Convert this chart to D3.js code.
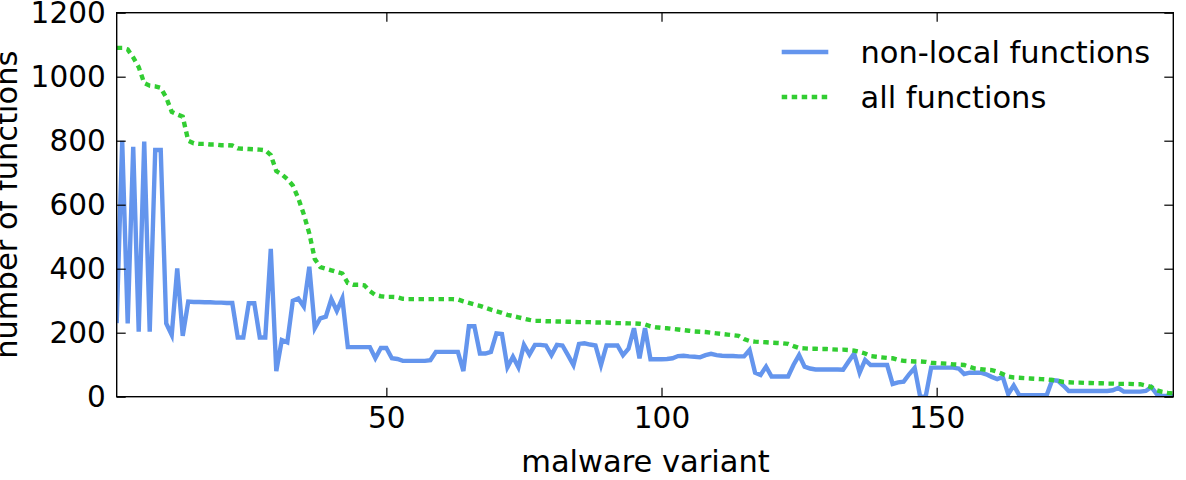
<!DOCTYPE html>
<html>
<head>
<meta charset="utf-8">
<script src="https://cdn.jsdelivr.net/npm/d3@7"></script>
<style>
  body { margin: 0; background: #fff; }
  svg text { font-family: "DejaVu Sans", sans-serif; fill: #000; }
</style>
</head>
<body>
<div id="chart"></div>
<script>
// Data --------------------------------------------------------------------------------------------------------------
const nonLocal = [
  230, 800, 229, 781, 203, 797, 203, 771, 771, 229, 193, 401, 190, 297, 296, 296, 295, 295, 294, 294,
  293, 293, 185, 185, 292, 292, 185, 185, 462, 80, 177, 170, 300, 307, 282, 406, 214, 245, 250, 305,
  268, 307, 155, 155, 155, 155, 155, 120, 152, 152, 120, 118, 112, 112, 112, 112, 112, 114, 140, 140,
  140, 140, 140, 80, 220, 220, 135, 135, 140, 198, 196, 92, 125, 92, 162, 132, 162, 162, 160, 130,
  162, 160, 130, 99, 165, 167, 163, 160, 99, 160, 160, 160, 130, 150, 214, 120, 214, 117, 117, 117,
  118, 120, 127, 128, 126, 125, 123, 130, 134, 130, 128, 127, 127, 126, 126, 146, 75, 68, 94, 63,
  63, 63, 63, 100, 130, 94, 88, 85, 85, 85, 85, 85, 84, 110, 135, 75, 115, 99, 99, 99,
  99, 40, 45, 47, 70, 90, 0, 0, 91, 91, 91, 91, 91, 88, 71, 75, 75, 75, 70, 62,
  55, 62, 8, 35, 5, 5, 5, 5, 5, 5, 52, 50, 35, 18, 18, 18, 18, 18, 18, 18,
  18, 20, 27, 16, 16, 16, 16, 18, 30, 8, 2, 2, 2
];
const allFunctions = [
  1090, 1090, 1085, 1060, 1030, 980, 972, 970, 965, 935, 890, 882, 875, 800, 792, 790, 790, 788, 788, 786,
  786, 785, 776, 775, 774, 773, 772, 770, 755, 705, 695, 680, 660, 620, 570, 510, 430, 405, 400, 395,
  390, 385, 355, 350, 350, 348, 330, 318, 314, 312, 312, 311, 306, 305, 305, 305, 305, 305, 305, 305,
  305, 305, 304, 298, 293, 288, 284, 278, 272, 267, 262, 256, 252, 248, 244, 240, 237, 237, 236, 236,
  235, 235, 234, 234, 233, 233, 233, 232, 232, 232, 231, 230, 230, 229, 229, 228, 226, 220, 217, 215,
  214, 212, 210, 208, 206, 204, 203, 202, 200, 198, 196, 194, 192, 190, 180, 174, 172, 171, 170, 169,
  168, 167, 165, 158, 152, 151, 150, 150, 149, 149, 148, 147, 147, 146, 144, 140, 135, 127, 125, 123,
  121, 120, 115, 112, 111, 110, 110, 109, 106, 105, 104, 103, 101, 100, 99, 93, 88, 86, 84, 83,
  78, 71, 63, 60, 59, 58, 57, 56, 55, 54, 52, 50, 46, 45, 44, 44, 43, 43, 42, 42,
  41, 41, 40, 40, 40, 39, 39, 35, 30, 20, 15, 12, 10
];
const xTicks = [50, 100, 150];
const yTicks = [0, 200, 400, 600, 800, 1000, 1200];
const seriesNames = ["non-local functions", "all functions"];

// Canvas ------------------------------------------------------------------------------------------------------------
const canvasWidth = 1186;
const canvasHeight = 480;

const plotLeft = 116.7;
const plotRight = 1173.3;
const plotTop = 12.7;
const plotBottom = 396.7;

const tickFontSize = 29.5;
const labelFontSize = 30.5;
const tickLength = 9;
const lineWidth = 4.4;
const dotPattern = "5.5,4.5";
const blue = "#6495ed";
const green = "#32cd32";

const svg = d3.select("#chart")
  .append("svg")
  .attr("width", canvasWidth)
  .attr("height", canvasHeight);

const xScale = d3.scaleLinear()
  .domain([1, nonLocal.length])
  .range([plotLeft, plotRight]);
const yScale = d3.scaleLinear()
  .domain([0, 1200])
  .range([plotBottom, plotTop]);

svg.append("clipPath")
  .attr("id", "plot-clip")
  .append("rect")
  .attr("x", plotLeft)
  .attr("y", plotTop)
  .attr("width", plotRight - plotLeft)
  .attr("height", plotBottom - plotTop);

// Lines -------------------------------------------------------------------------------------------------------------
const line = d3.line()
  .x((d, i) => xScale(i + 1))
  .y(d => yScale(d));

const lineGroup = svg.append("g").attr("clip-path", "url(#plot-clip)");

lineGroup.append("path")
  .datum(nonLocal)
  .attr("d", line)
  .attr("fill", "none")
  .attr("stroke", blue)
  .attr("stroke-width", lineWidth)
  .attr("stroke-linejoin", "miter");

lineGroup.append("path")
  .datum(allFunctions)
  .attr("d", line)
  .attr("fill", "none")
  .attr("stroke", green)
  .attr("stroke-width", lineWidth)
  .attr("stroke-dasharray", dotPattern);

// Axes --------------------------------------------------------------------------------------------------------------
const styleAxis = function(g, showText) {
  g.select(".domain").remove();
  g.selectAll("line").attr("stroke", "#000").attr("stroke-width", 1.2);
  g.selectAll("text").style("font-size", tickFontSize + "px").style("font-family", "DejaVu Sans");
  if (!showText) g.selectAll("text").remove();
};

svg.append("g")
  .attr("transform", "translate(" + plotLeft + ",0)")
  .call(d3.axisLeft(yScale).tickValues(yTicks).tickFormat(d3.format("d"))
    .tickSizeInner(-tickLength).tickSizeOuter(0).tickPadding(11))
  .call(g => styleAxis(g, true));

svg.append("g")
  .attr("transform", "translate(" + plotRight + ",0)")
  .call(d3.axisRight(yScale).tickValues(yTicks).tickSizeInner(-tickLength).tickSizeOuter(0))
  .call(g => styleAxis(g, false));

svg.append("g")
  .attr("transform", "translate(0," + plotBottom + ")")
  .call(d3.axisBottom(xScale).tickValues(xTicks).tickFormat(d3.format("d"))
    .tickSizeInner(-tickLength).tickSizeOuter(0).tickPadding(10))
  .call(g => styleAxis(g, true));

svg.append("g")
  .attr("transform", "translate(0," + plotTop + ")")
  .call(d3.axisTop(xScale).tickValues(xTicks).tickSizeInner(-tickLength).tickSizeOuter(0))
  .call(g => styleAxis(g, false));

svg.append("rect")
  .attr("x", plotLeft)
  .attr("y", plotTop)
  .attr("width", plotRight - plotLeft)
  .attr("height", plotBottom - plotTop)
  .attr("fill", "none")
  .attr("stroke", "#000")
  .attr("stroke-width", 1.4);

// Axis titles
svg.append("text")
  .text("malware variant")
  .attr("x", 645.5)
  .attr("y", 472)
  .style("text-anchor", "middle")
  .style("font-size", labelFontSize + "px");

svg.append("text")
  .text("number of functions")
  .attr("transform", "translate(17," + (plotTop + plotBottom) / 2 + ") rotate(-90)")
  .style("text-anchor", "middle")
  .style("font-size", labelFontSize + "px");

// Legend ------------------------------------------------------------------------------------------------------------
const legendGroup = svg.append("g");
const legendItems = [
  { name: seriesNames[0], color: blue, dash: null, y: 52 },
  { name: seriesNames[1], color: green, dash: dotPattern, y: 97 }
];
legendItems.forEach(function(item) {
  legendGroup.append("line")
    .attr("x1", 781.7)
    .attr("x2", 828.3)
    .attr("y1", item.y)
    .attr("y2", item.y)
    .attr("stroke", item.color)
    .attr("stroke-width", lineWidth)
    .attr("stroke-dasharray", item.dash);
  legendGroup.append("text")
    .text(item.name)
    .attr("x", 860.5)
    .attr("y", item.y + 11)
    .style("font-size", labelFontSize + "px");
});
</script>
</body>
</html>
